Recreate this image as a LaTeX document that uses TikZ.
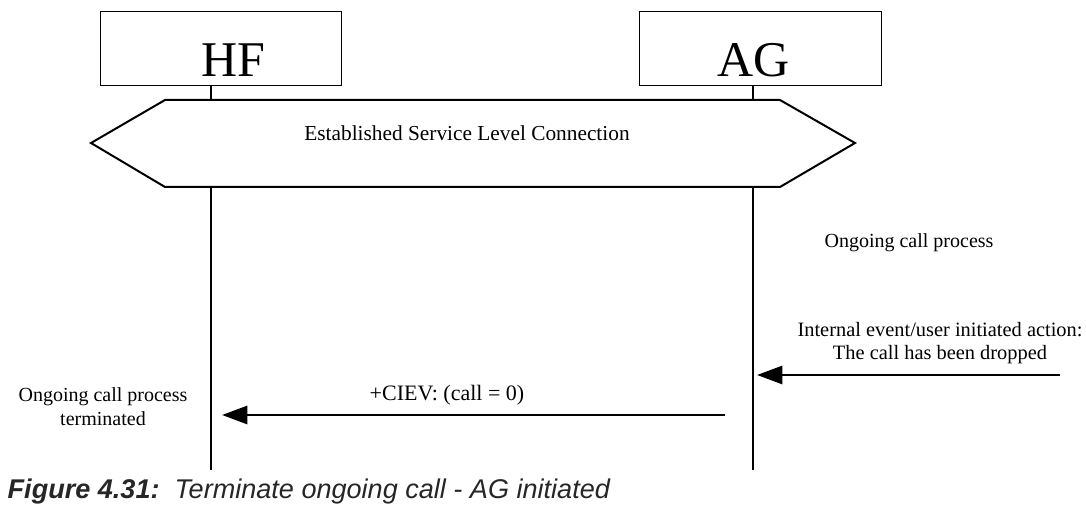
\documentclass[tikz,border=0pt]{standalone}
\usepackage{fontspec}
\setmainfont{Liberation Serif}
\newfontfamily\capfont{Liberation Sans}
\usetikzlibrary{positioning,calc}
\usetikzlibrary{arrows.meta}

\tikzset{
  entity/.style={draw, line width=0.8pt, minimum width=181pt, minimum height=55pt},
  entlabel/.style={font=\fontsize{37.5}{40}\selectfont},
  lifeline/.style={line width=2.2pt},
  msg/.style={line width=2.2pt, -{Triangle[length=19pt,width=13.5pt]}},
  note/.style={align=center, font=\fontsize{15}{18}\selectfont},
}

\begin{document}
\begin{tikzpicture}[x=0.75pt,y=-0.75pt]
  % page frame
  \useasboundingbox (0,0) rectangle (1086,509);

  % Entities
  \node[entity] (hf) at (221,48.5) {};
  \node[entity] (ag) at (760.5,48.5) {};
  \node[entlabel] (hflbl) at (233,60) {HF};
  \node[entlabel] (aglbl) at (754,60) {AG};

  % Lifeline ends
  \coordinate (hfend) at (211,470);
  \coordinate (agend) at (753,470);

  % Service level connection
  \draw[line width=1.5pt, fill=white] (91,143) -- (165,100) -- (780,100) -- (855,143)
    -- (780,187) -- (165,187) -- cycle;
  \node[note, font=\fontsize{16}{19}\selectfont] (slc) at (467,133) {Established Service Level Connection};

  % Lifelines
  \draw[lifeline] (211,85) -- (211,100);
  \draw[lifeline] (753,85) -- (753,100);
  \draw[lifeline] (211,187) -- (hfend);
  \draw[lifeline] (753,187) -- (agend);

  % Notes
  \node[note] (ongoing) at (909,243) {Ongoing call process};
  \node[note, font=\fontsize{15.3}{17.3}\selectfont] (drop) at (940,343.5) {Internal event/user initiated action:\\The call has been dropped};
  \node[note] (term) at (103,407) {Ongoing call process\\terminated};

  % Messages
  \coordinate (evsrc) at (1060,375);
  \coordinate (evdst) at (757,375);
  \draw[msg] (evsrc) -- (evdst);

  \coordinate (ciev1) at (725,415);
  \coordinate (ciev2) at (222,415);
  \draw[msg] (ciev1) -- (ciev2);
  \node[note, font=\fontsize{16.5}{19}\selectfont] (cievlbl) at (447,395) {+CIEV: (call = 0)};

  % Caption
  \node[anchor=west, text=black!85, font=\capfont\fontsize{20.3}{24}\selectfont] (cap) at (3,492)
    {\textbf{\textit{Figure 4.31:}}\ \ \textit{Terminate ongoing call - AG initiated}};
\end{tikzpicture}
\end{document}
